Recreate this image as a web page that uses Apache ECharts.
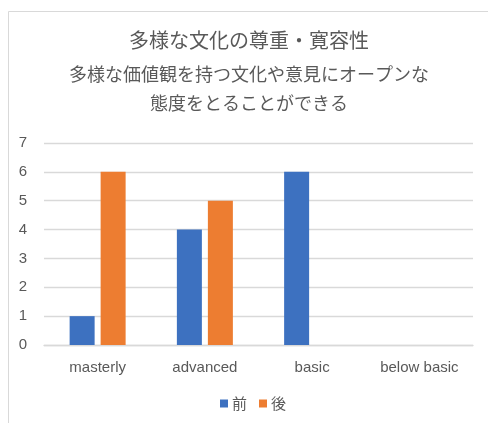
<!DOCTYPE html>
<html>
<head>
<meta charset="utf-8">
<script src="https://cdn.jsdelivr.net/npm/echarts@6/dist/echarts.min.js"></script>
<style>
  html, body { margin: 0; padding: 0; background: #fff; }
  #chart { width: 488px; height: 423px; }
</style>
</head>
<body>
<div id="chart"></div>
<script>
// Chart data
const titleMain = '多様な文化の尊重・寛容性';
const titleSub = ['多様な価値観を持つ文化や意見にオープンな', '態度をとることができる'];
const categories = ['masterly', 'advanced', 'basic', 'below basic'];
const seriesNames = ['前', '後'];
const beforeValues = [1, 4, 6, 0];
const afterValues = [6, 5, 0, 0];
const yTicks = [0, 1, 2, 3, 4, 5, 6, 7];

const textColor = '#595959';
const gridColor = '#d9d9d9';
const cjkFont = '"Noto Sans CJK JP", "Noto Sans", sans-serif';
const latinFont = '"Liberation Sans", "Noto Sans", sans-serif';

const chart = echarts.init(document.getElementById('chart'));

chart.setOption({
  animation: false,
  backgroundColor: '#fff',
  title: [
    {
      text: titleMain,
      left: 249, top: 30, padding: 0,
      textAlign: 'center',
      textStyle: { fontFamily: cjkFont, fontSize: 20, fontWeight: 'normal', color: textColor, lineHeight: 20 }
    },
    {
      text: titleSub.join('\n'),
      left: 249, top: 59, padding: 0,
      textAlign: 'center',
      textStyle: { fontFamily: cjkFont, fontSize: 18, fontWeight: 'normal', color: textColor, lineHeight: 29.5 }
    }
  ],
  graphic: [
    {
      type: 'polyline',
      shape: { points: [[8.5, 430], [8.5, 11.5], [500, 11.5]] },
      style: { stroke: gridColor, lineWidth: 1, fill: null },
      silent: true
    }
  ],
  legend: {
    data: seriesNames,
    left: 220, top: 396,
    itemWidth: 8, itemHeight: 8, itemGap: 12,
    icon: 'rect',
    padding: 0,
    textStyle: { fontFamily: cjkFont, fontSize: 15, color: textColor, padding: [0, 0, 0, -1] }
  },
  grid: { left: 44, right: 15, top: 143, bottom: 78, containLabel: false },
  xAxis: {
    type: 'category',
    data: categories,
    axisLine: { show: true, lineStyle: { color: gridColor, width: 1.3 } },
    axisTick: { show: false },
    axisLabel: { fontFamily: latinFont, fontSize: 15, color: textColor, margin: 15 }
  },
  yAxis: {
    type: 'value',
    min: yTicks[0], max: yTicks[yTicks.length - 1], interval: 1,
    axisLine: { show: false },
    axisTick: { show: false },
    splitLine: { lineStyle: { color: gridColor, width: 1.3 } },
    axisLabel: { fontFamily: latinFont, fontSize: 15, color: textColor, margin: 17 }
  },
  series: [
    {
      name: seriesNames[0], type: 'bar', data: beforeValues,
      barWidth: 25, barGap: '24%',
      itemStyle: { color: '#3d71c0' }
    },
    {
      name: seriesNames[1], type: 'bar', data: afterValues,
      barWidth: 25,
      itemStyle: { color: '#ED7D31' }
    }
  ]
});
</script>
</body>
</html>
